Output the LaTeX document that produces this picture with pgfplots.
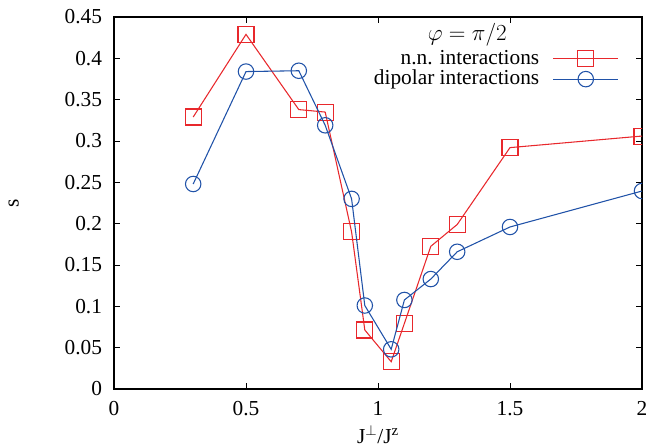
\documentclass[border=0pt]{standalone}
\usepackage{fontspec}
\setmainfont{Liberation Serif}
\usepackage{pgfplots}
\pgfplotsset{compat=1.18}
\definecolor{cred}{RGB}{232,40,44}
\definecolor{cblue}{RGB}{32,82,168}
\begin{document}
\rmfamily\fontsize{16}{19}\selectfont
\begin{tikzpicture}[font=\rmfamily\fontsize{16}{19}\selectfont]
\begin{axis}[
  scale only axis, width=396pt, height=279pt,
  xmin=0, xmax=2, ymin=0, ymax=0.45,
  xtick={0,0.5,1,1.5,2},
  ytick={0,0.05,0.1,0.15,0.2,0.25,0.3,0.35,0.4,0.45},
  /pgf/number format/assume math mode=true,
  /pgf/number format/fixed,
  tick align=inside, major tick length=4.5pt,
  axis line style={line width=0.8pt},
  tick style={line width=0.6pt, black},
  xlabel={J\textsuperscript{$\perp$}/J\textsuperscript{z}},
  ylabel={s},
  xlabel style={at={(axis description cs:0.5,-0.122)}, anchor=center},
  ylabel style={at={(axis description cs:-0.19,0.5)}, anchor=center},
  yticklabel style={xshift=-3.5pt},
  xticklabel style={yshift=-4pt},
  clip marker paths=true,
  legend plot pos=right,
  legend cell align=right,
  legend style={draw=none, fill=none, at={(axis description cs:0.9645,0.926)}, anchor=north east,
    row sep=-2pt, column sep=8pt, font=\rmfamily\fontsize{16}{16}\selectfont},
  legend image code/.code={\draw[mark repeat=2,mark phase=2] plot coordinates {(0pt,0pt) (24.5pt,0pt) (49pt,0pt)};},
]
\addplot[cred, line width=0.8pt, mark=square, mark size=6pt, mark options={line width=0.8pt}] coordinates {
(0.3,0.329) (0.5,0.429) (0.7,0.338) (0.8,0.335) (0.9,0.190) (0.95,0.0714)
(1.05,0.033) (1.1,0.0794) (1.2,0.1726) (1.3,0.199) (1.5,0.292) (2.0,0.306)};
\addlegendentry{n.n. interactions}
\addplot[cblue, line width=0.8pt, mark=o, mark size=5.8pt, mark options={line width=0.8pt}] coordinates {
(0.3,0.248) (0.5,0.384) (0.7,0.385) (0.8,0.319) (0.9,0.230) (0.95,0.101)
(1.05,0.048) (1.1,0.1077) (1.2,0.133) (1.3,0.166) (1.5,0.196) (2.0,0.2395)};
\addlegendentry{dipolar interactions}
\node at (axis description cs:0.669,0.952) {$\varphi=\pi/2$};
\coordinate (sw) at (rel axis cs:0,0);
\coordinate (ne) at (rel axis cs:1,1);
\end{axis}
\pgfresetboundingbox
\path[use as bounding box] ([shift={(-85.5pt,-43.5pt)}]sw) rectangle ([shift={(6pt,12.75pt)}]ne);
\end{tikzpicture}
\end{document}
